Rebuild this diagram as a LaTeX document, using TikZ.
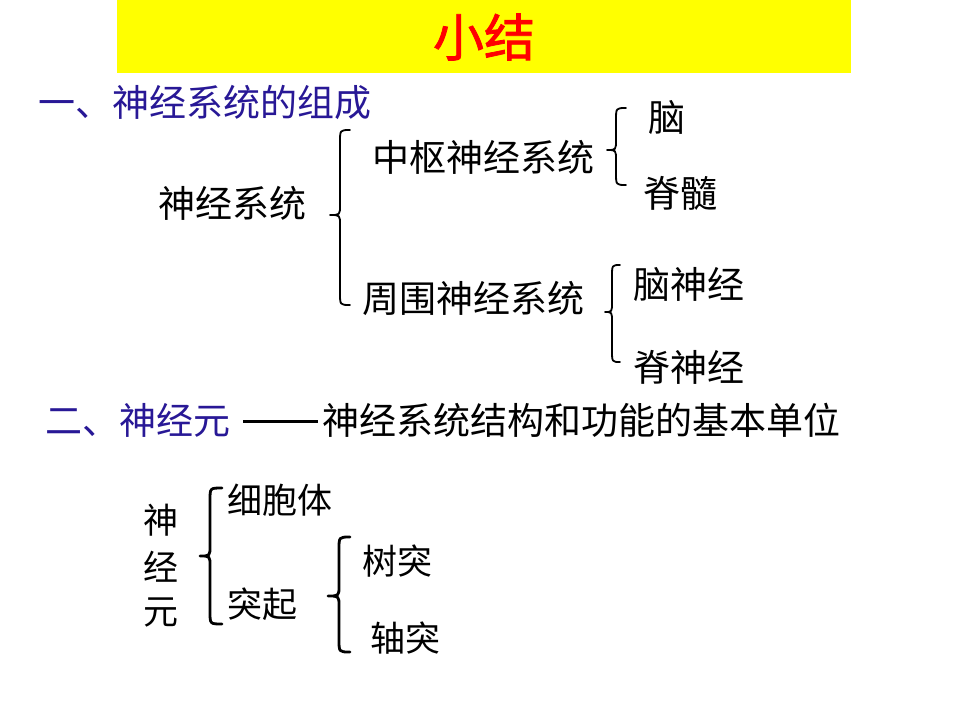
\documentclass[tikz,border=0pt]{standalone}
\usepackage{fontspec}
\newfontfamily\cjk{Noto Sans CJK SC}
\newfontfamily\cjkbold[FakeBold=1.5]{Noto Sans CJK SC}
\definecolor{navy}{RGB}{40,24,150}
\definecolor{titleyellow}{RGB}{255,255,0}
\definecolor{titlered}{RGB}{255,0,0}
\tikzset{
  txt/.style={anchor=west, inner sep=0pt, font=\cjk\fontsize{37}{40}\selectfont},
  smalltxt/.style={anchor=west, inner sep=0pt, font=\cjk\fontsize{35}{40}\selectfont},
  head/.style={txt, text=navy},
  bracestyle/.style={draw=black, line width=1.8pt, line cap=round, line join=round},
  thickbrace/.style={bracestyle, line width=2.8pt}
}
\newcommand\mybrace[7]{% style, tip x, spine x, end x, top y, tip y, bottom y
  \draw[#1] (#4,#5) .. controls (#3,#5) .. (#3,#5+12) -- (#3,#6-10)
    .. controls (#3,#6) .. (#2,#6) .. controls (#3,#6) .. (#3,#6+10)
    -- (#3,#7-12) .. controls (#3,#7) .. (#4,#7);}
\begin{document}
\begin{tikzpicture}[x=1pt,y=-1pt]
\useasboundingbox[fill=white] (0,0) rectangle (960,720);
\fill[titleyellow] (117,0) rectangle (851,73);
\node[inner sep=0pt, text=titlered, font=\cjkbold\fontsize{51}{55}\selectfont] (title) at (484,37) {小结};

\node[head] (h1) at (38,102) {一、神经系统的组成};
\node[txt] (ns) at (158,203) {神经系统};
\node[txt] (cns) at (372,157) {中枢神经系统};
\node[txt] (pns) at (362,298) {周围神经系统};
\node[txt] (brain) at (648,118) {脑};
\node[txt] (cord) at (643,193) {脊髓};
\node[txt] (cn) at (633,285) {脑神经};
\node[txt] (sn) at (633,367) {脊神经};

\mybrace{bracestyle}{330}{340}{350}{130}{215}{305}
\mybrace{bracestyle}{607}{616}{626}{108}{150}{185}
\mybrace{bracestyle}{605}{612}{620}{265}{312}{362}

\node[head] (h2) at (45,420) {二、神经元};
\draw[line width=3pt] (243,421) -- (318,421);
\node[txt] (def) at (322,420) {神经系统结构和功能的基本单位};

\node[smalltxt] (n1) at (143,520) {神};
\node[smalltxt] (n2) at (143,567) {经};
\node[smalltxt] (n3) at (143,613) {元};
\node[smalltxt] (soma) at (227,500) {细胞体};
\node[smalltxt] (proc) at (227,604) {突起};
\node[smalltxt] (dend) at (362,561) {树突};
\node[smalltxt] (axon) at (370,638) {轴突};

\mybrace{thickbrace}{200}{210}{222}{488}{556}{624}
\mybrace{thickbrace}{328}{339}{350}{537}{596}{652}
\end{tikzpicture}
\end{document}
